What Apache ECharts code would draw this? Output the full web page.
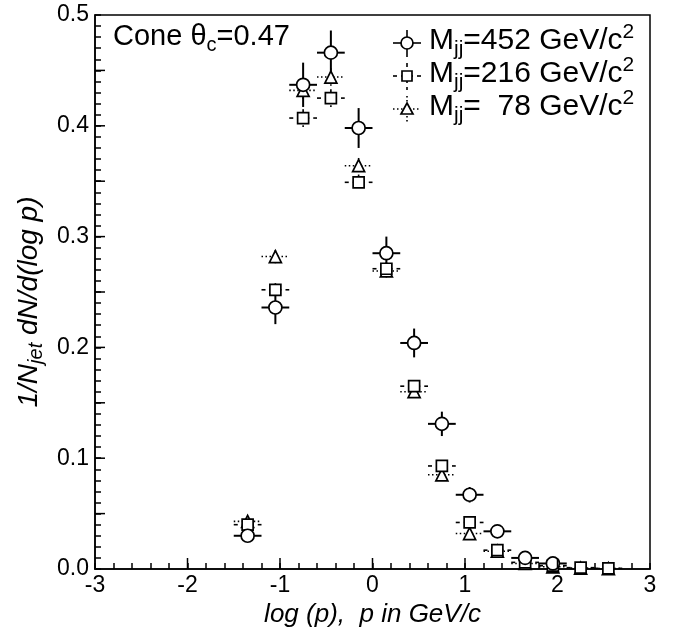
<!DOCTYPE html>
<html>
<head>
<meta charset="utf-8">
<script src="https://cdn.jsdelivr.net/npm/echarts@6/dist/echarts.min.js"></script>
<style>
  html, body { margin: 0; padding: 0; background: #fff; }
  #chart { width: 674px; height: 637px; }
</style>
</head>
<body>
<div id="chart"></div>
<script>
// bin centres in log(p), half bin width for the horizontal bars
const xCenters = [-1.35, -1.05, -0.75, -0.45, -0.15, 0.15, 0.45, 0.75, 1.05, 1.35, 1.65, 1.95, 2.25, 2.55];
const xHalfWidth = 0.15;

// Mjj = 452 GeV/c2 (circles)
const y452 = [0.030, 0.236, 0.437, 0.466, 0.398, 0.285, 0.204, 0.131, 0.067, 0.034, 0.010, 0.005, null, null];
const e452 = [0.004, 0.015, 0.020, 0.020, 0.018, 0.015, 0.013, 0.011, 0.007, 0.004, 0.003, 0.002, null, null];

// Mjj = 216 GeV/c2 (squares)
const y216 = [0.040, 0.252, 0.407, 0.425, 0.349, 0.271, 0.165, 0.093, 0.042, 0.017, 0.006, 0.003, 0.0012, 0.0006];
const e216 = [0.003, 0.006, 0.008, 0.008, 0.007, 0.006, 0.005, 0.004, 0.003, 0.002, 0.001, 0.001, 0.0005, 0.0003];

// Mjj = 78 GeV/c2 (triangles)
const y78 = [0.043, 0.282, 0.432, 0.444, 0.364, 0.269, 0.160, 0.085, 0.032, 0.016, 0.005, 0.002, 0.0008, 0.0003];
const e78 = [0.003, 0.006, 0.008, 0.008, 0.007, 0.006, 0.005, 0.004, 0.003, 0.002, 0.001, 0.001, 0.0004, 0.0002];

const xTickLabels = ['-3', '-2', '-1', '0', '1', '2', '3'];
const yTickLabels = ['0.0', '0.1', '0.2', '0.3', '0.4', '0.5'];

const FONT = '"Liberation Sans", Arial, Helvetica, sans-serif';

function rows(ys, es) {
  const out = [];
  xCenters.forEach((x, i) => {
    if (ys[i] != null) out.push([x, ys[i], es[i]]);
  });
  return out;
}

// longer ticks at the main divisions (1 on x, 0.05 on y); the axes carry the fine ones
const xMajor = [[-2, 0], [-1, 0], [0, 0], [1, 0], [2, 0]];
const yMajor = [[-3, 0.05], [-3, 0.1], [-3, 0.15], [-3, 0.2], [-3, 0.25], [-3, 0.3], [-3, 0.35], [-3, 0.4], [-3, 0.45]];

function majorTicks(data, dir) {
  return {
    type: 'custom',
    clip: false,
    z: 4,
    silent: true,
    renderItem(params, api) {
      const p = api.coord([api.value(0), api.value(1)]);
      const shape = dir === 'x'
        ? { x1: p[0], y1: p[1], x2: p[0], y2: p[1] - 11 }
        : { x1: p[0], y1: p[1], x2: p[0] + 10, y2: p[1] };
      return { type: 'line', shape, style: { stroke: '#000', lineWidth: 1.5 } };
    },
    data
  };
}

function errorSeries(data, dash, width) {
  return {
    type: 'custom',
    clip: true,
    z: 2,
    silent: true,
    renderItem(params, api) {
      const x = api.value(0), y = api.value(1), e = api.value(2);
      const l = api.coord([x - xHalfWidth, y]);
      const r = api.coord([x + xHalfWidth, y]);
      const t = api.coord([x, y + e]);
      const b = api.coord([x, y - e]);
      const style = { stroke: '#000', lineWidth: width, lineDash: dash, fill: null };
      return {
        type: 'group',
        children: [
          { type: 'line', shape: { x1: l[0], y1: l[1], x2: r[0], y2: r[1] }, style },
          { type: 'line', shape: { x1: t[0], y1: t[1], x2: b[0], y2: b[1] }, style }
        ]
      };
    },
    data
  };
}

function markerSeries(data, symbol, size) {
  return {
    type: 'scatter',
    symbol,
    symbolSize: size,
    z: 3,
    silent: true,
    itemStyle: { color: '#fff', borderColor: '#000', borderWidth: 1.7, opacity: 1 },
    data: data.map((d) => [d[0], d[1]])
  };
}

const d452 = rows(y452, e452);
const d216 = rows(y216, e216);
const d78 = rows(y78, e78);

function richText(size) {
  const small = Math.round(size * 0.7);
  const lh = size + 8;
  return {
    n: { fontSize: size, fontFamily: FONT, color: '#000', verticalAlign: 'middle', lineHeight: lh },
    sub: { fontSize: small, fontFamily: FONT, color: '#000', verticalAlign: 'bottom', lineHeight: lh },
    sup: { fontSize: small, fontFamily: FONT, color: '#000', verticalAlign: 'top', lineHeight: lh }
  };
}

function legendEntry(cy, kind, dash, label) {
  const cx = 407;
  const style = { stroke: '#000', lineWidth: 1.6, lineDash: dash, fill: null };
  let sym;
  if (kind === 'circle') {
    sym = { type: 'circle', shape: { cx, cy, r: 6 }, style: { fill: '#fff', stroke: '#000', lineWidth: 1.7 } };
  } else if (kind === 'rect') {
    sym = { type: 'rect', shape: { x: cx - 5, y: cy - 5, width: 10, height: 10 }, style: { fill: '#fff', stroke: '#000', lineWidth: 1.7 } };
  } else {
    sym = { type: 'polygon', shape: { points: [[cx, cy - 6], [cx + 6, cy + 5], [cx - 6, cy + 5]] }, style: { fill: '#fff', stroke: '#000', lineWidth: 1.7 } };
  }
  return [
    { type: 'line', shape: { x1: cx - 14, y1: cy, x2: cx + 14, y2: cy }, style },
    { type: 'line', shape: { x1: cx, y1: cy - 13, x2: cx, y2: cy + 14 }, style },
    sym,
    {
      type: 'text', left: 429, top: cy - 21,
      style: { text: label, rich: richText(30), fill: '#000' }
    }
  ];
}

const chart = echarts.init(document.getElementById('chart'));
chart.setOption({
  animation: false,
  backgroundColor: '#fff',
  grid: { left: 95, right: 24, top: 15, bottom: 68, show: true, borderColor: '#000', borderWidth: 1.5 },
  xAxis: {
    type: 'value',
    min: -3,
    max: 3,
    interval: 0.2,
    name: 'log (p),  p in GeV/c',
    nameLocation: 'middle',
    nameGap: 32,
    nameTextStyle: { fontFamily: FONT, fontSize: 26, fontStyle: 'italic', color: '#000' },
    axisLine: { onZero: false, lineStyle: { color: '#000', width: 1.5 } },
    axisTick: { inside: true, length: 6, lineStyle: { color: '#000', width: 1.5 } },
    axisLabel: {
      margin: 5,
      fontFamily: FONT, fontSize: 23, color: '#000',
      formatter: (v) => {
        const r = Math.round(v);
        return Math.abs(v - r) < 1e-6 ? xTickLabels[r + 3] : '';
      }
    },
    splitLine: { show: false }
  },
  yAxis: {
    type: 'value',
    min: 0,
    max: 0.5,
    interval: 0.01,
    name: '1/N{sub|jet} dN/d(log p)',
    nameLocation: 'middle',
    nameRotate: 90,
    nameGap: 41,
    nameTextStyle: {
      fontFamily: FONT, fontSize: 28, fontStyle: 'italic', color: '#000', lineHeight: 34,
      padding: [0, 20, 0, 0],
      rich: {
        sub: { fontFamily: FONT, fontSize: 20, fontStyle: 'italic', color: '#000', verticalAlign: 'bottom', lineHeight: 34 }
      }
    },
    axisLine: { onZero: false, lineStyle: { color: '#000', width: 1.5 } },
    axisTick: { inside: true, length: 6, lineStyle: { color: '#000', width: 1.5 } },
    axisLabel: {
      margin: 6,
      fontFamily: FONT, fontSize: 23, color: '#000',
      formatter: (v) => {
        const k = Math.round(v * 100);
        return Math.abs(v * 100 - k) < 1e-6 && k % 10 === 0 ? yTickLabels[k / 10] : '';
      }
    },
    splitLine: { show: false }
  },
  graphic: [
    {
      type: 'text', left: 113, top: 22,
      style: { text: '{n|Cone θ}{sub|c}{n|=0.47}', rich: richText(29), fill: '#000' }
    },
    ...legendEntry(43, 'circle', null, '{n|M}{sub|jj}{n|=452 GeV/c}{sup|2}'),
    ...legendEntry(76, 'rect', [4, 4], '{n|M}{sub|jj}{n|=216 GeV/c}{sup|2}'),
    ...legendEntry(109, 'triangle', [1.5, 2.5], '{n|M}{sub|jj}{n|=  78 GeV/c}{sup|2}')
  ],
  series: [
    majorTicks(xMajor, 'x'),
    majorTicks(yMajor, 'y'),
    errorSeries(d78, [1.5, 2.5], 1.6),
    errorSeries(d216, [4, 4], 1.6),
    errorSeries(d452, null, 2),
    markerSeries(d78, 'triangle', 12),
    markerSeries(d216, 'rect', 11),
    markerSeries(d452, 'circle', 13)
  ]
});
</script>
</body>
</html>
